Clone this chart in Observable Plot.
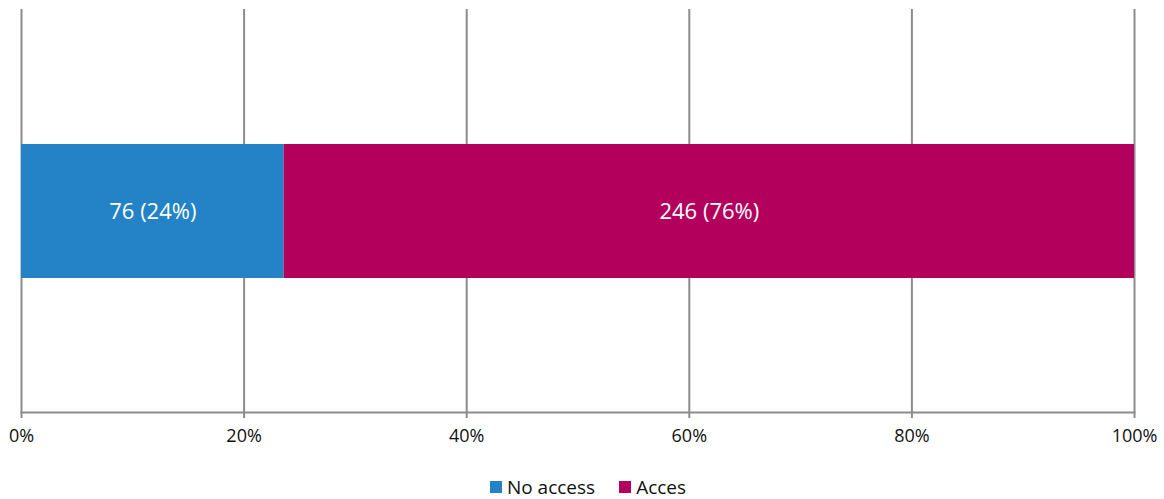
<!DOCTYPE html>
<html>
<head>
<meta charset="utf-8">
<script src="https://cdn.jsdelivr.net/npm/d3@7"></script>
<script src="https://cdn.jsdelivr.net/npm/@observablehq/plot@0.6"></script>
<style>
  html, body { margin: 0; padding: 0; background: #fff; }
  #chart { width: 1164px; font-family: "Open Sans", sans-serif; }
  .legend { display: flex; justify-content: center; align-items: center; gap: 24px; font-size: 19px; line-height: 20px; height: 20px; color: #111; margin-top: 17px; padding-left: 12px; }
  .legend span.item { display: flex; align-items: center; gap: 5px; }
  .legend span.sw { width: 12px; height: 12px; display: inline-block; }
</style>
</head>
<body>
<div id="chart"></div>
<script>
const categories = ["No access", "Acces"];
const counts = [76, 246];
const colors = ["#2383c6", "#b2005c"];
const tickValues = [0, 0.2, 0.4, 0.6, 0.8, 1];
const tickLabels = ["0%", "20%", "40%", "60%", "80%", "100%"];

const total = d3.sum(counts);
const data = categories.map((c, i) => ({
  row: "r",
  category: c,
  count: counts[i],
  label: `${counts[i]} (${Math.round(counts[i] / total * 100)}%)`
}));

const plot = Plot.plot({
  width: 1164,
  height: 460,
  marginLeft: 21,
  marginRight: 30,
  marginTop: 9,
  marginBottom: 48,
  style: { fontFamily: "Open Sans, sans-serif", background: "#fff" },
  x: { domain: [0, 1], ticks: tickValues, tickFormat: (d) => tickLabels[tickValues.indexOf(d)] },
  y: { domain: ["r"], padding: 0.5, axis: null },
  color: { domain: categories, range: colors },
  marks: [
    Plot.gridX(tickValues, { stroke: "#8c8c8c", strokeOpacity: 1, strokeWidth: 2 }),
    Plot.barX(data, Plot.stackX({ offset: "normalize", x: "count", y: "row", fill: "category", order: categories })),
    Plot.textX(data, Plot.stackX({ offset: "normalize", x: "count", y: "row", z: "category", order: categories, text: "label", fill: "white", fontSize: 22 })),
    Plot.frame({ anchor: "bottom", stroke: "#8c8c8c", strokeWidth: 2 }),
    Plot.axisX(tickValues, { tickSize: 6, tickPadding: 11, stroke: "#8c8c8c", strokeWidth: 2, fontSize: 18, fill: "#111", tickFormat: (d) => tickLabels[tickValues.indexOf(d)], label: null })
  ]
});

const chart = document.getElementById("chart");
chart.appendChild(plot);

const legend = document.createElement("div");
legend.className = "legend";
categories.forEach((c, i) => {
  const item = document.createElement("span");
  item.className = "item";
  const sw = document.createElement("span");
  sw.className = "sw";
  sw.style.background = colors[i];
  const t = document.createElement("span");
  t.textContent = c;
  item.appendChild(sw);
  item.appendChild(t);
  legend.appendChild(item);
});
chart.appendChild(legend);
</script>
</body>
</html>
